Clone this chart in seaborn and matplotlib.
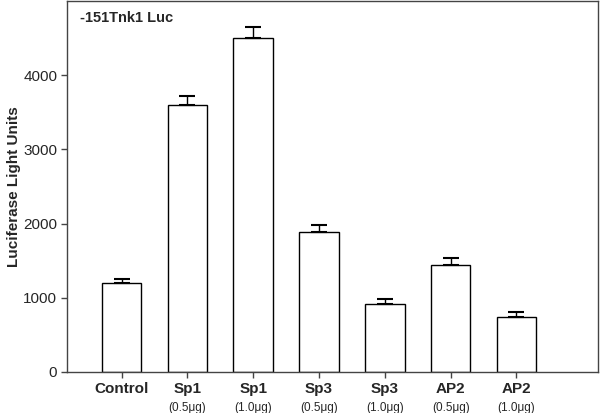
import matplotlib
matplotlib.use("Agg")
import matplotlib.pyplot as plt
import seaborn as sns
import pandas as pd
import numpy as np

names = ["Control", "Sp1", "Sp1", "Sp3", "Sp3", "AP2", "AP2"]
doses = ["", "(0.5\u03bcg)", "(1.0\u03bcg)", "(0.5\u03bcg)", "(1.0\u03bcg)", "(0.5\u03bcg)", "(1.0\u03bcg)"]
values = [1200, 3600, 4500, 1890, 920, 1440, 745]
errors = [55, 120, 150, 95, 65, 100, 62]

sns.set_theme(style="white")
plt.rcParams['font.family'] = ['Liberation Sans', 'DejaVu Sans']

df = pd.DataFrame({"group": [f"{n}{d}" for n, d in zip(names, doses)], "value": values})

fig = plt.figure(figsize=(6, 4.13), dpi=100)
ax = fig.add_axes([0.1117, 0.0993, 0.885, 0.898])
sns.barplot(data=df, x="group", y="value", color="white", edgecolor="black",
            linewidth=1.0, width=0.6, errorbar=None, ax=ax, saturation=1)
xs = np.arange(len(values))
ax.errorbar(xs, values, yerr=[np.zeros(len(errors)), errors], fmt="none",
            ecolor="black", elinewidth=1.0, capsize=6, capthick=1.5)

ax.set_xlim(-0.83, 7.24)
ax.set_ylim(0, 5000)
ax.set_yticks([0, 1000, 2000, 3000, 4000])
ax.set_yticklabels(["0", "1000", "2000", "3000", "4000"], fontsize=11)
ax.set_xticks(xs)
ax.set_xticklabels(names, fontsize=11, fontweight="bold")
for i, d in enumerate(doses):
    if d:
        ax.text(i, -0.097, d, transform=ax.get_xaxis_transform(), ha="center",
                va="center", fontsize=8.5)
ax.tick_params(axis="both", direction="out", length=4, width=1, color="#444444",
               bottom=True, left=True, pad=3)
ax.tick_params(axis="x", pad=3.5)
ax.set_xlabel("")
ax.set_ylabel("Luciferase Light Units", fontsize=11, fontweight="bold")
ax.yaxis.set_label_coords(-0.087, 0.5)
for s in ax.spines.values():
    s.set_color("#444444")
    s.set_linewidth(1.0)
ax.text(0.025, 0.955, "-151Tnk1 Luc", transform=ax.transAxes, fontsize=10.5,
        fontweight="bold", ha="left", va="center")
fig.savefig("out.png", dpi=100)
